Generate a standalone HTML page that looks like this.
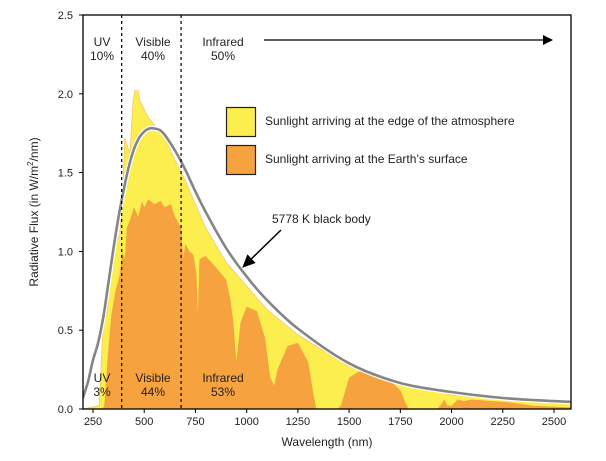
<!DOCTYPE html>
<html><head><meta charset="utf-8"><style>
html,body{margin:0;padding:0;background:#fff;}
svg{display:block;font-family:"Liberation Sans",Arial,sans-serif;}
</style></head><body>
<svg id="chart" width="606" height="461" viewBox="0 0 606 461">
<defs>
<clipPath id="pc"><rect x="83" y="15" width="488" height="394"/></clipPath>
<marker id="ah" markerWidth="10" markerHeight="10" refX="9" refY="5" orient="auto" markerUnits="userSpaceOnUse"><path d="M0,0 L10,5 L0,10 z" fill="#000"/></marker>
<marker id="ah2" markerWidth="14" markerHeight="12" refX="12" refY="6" orient="auto" markerUnits="userSpaceOnUse"><path d="M0,0 L13,6 L0,12 z" fill="#000"/></marker>
</defs>
<g id="marks" clip-path="url(#pc)"></g>
<g id="axes"></g>
<g id="labels">
<text x="102" y="46" font-size="12" text-anchor="middle" fill="#222">UV</text>
<text x="102" y="60" font-size="12" text-anchor="middle" fill="#222">10%</text>
<text x="153" y="46" font-size="12" text-anchor="middle" fill="#222">Visible</text>
<text x="153" y="60" font-size="12" text-anchor="middle" fill="#222">40%</text>
<text x="223" y="46" font-size="12" text-anchor="middle" fill="#222">Infrared</text>
<text x="223" y="60" font-size="12" text-anchor="middle" fill="#222">50%</text>
<line x1="264" y1="40" x2="552" y2="40" stroke="#000" stroke-width="1.3" marker-end="url(#ah)"/>
<text x="102" y="382" font-size="12" text-anchor="middle" fill="#222">UV</text>
<text x="102" y="396" font-size="12" text-anchor="middle" fill="#222">3%</text>
<text x="153" y="382" font-size="12" text-anchor="middle" fill="#222">Visible</text>
<text x="153" y="396" font-size="12" text-anchor="middle" fill="#222">44%</text>
<text x="223" y="382" font-size="12" text-anchor="middle" fill="#222">Infrared</text>
<text x="223" y="396" font-size="12" text-anchor="middle" fill="#222">53%</text>
<g>
<rect x="226.5" y="107.5" width="29" height="29" fill="#fcee4f" stroke="#222" stroke-width="1.2"/>
<text x="265" y="125" font-size="12" fill="#222">Sunlight arriving at the edge of the atmosphere</text>
<rect x="226.5" y="145.5" width="29" height="29" fill="#f5a23f" stroke="#222" stroke-width="1.2"/>
<text x="265" y="163" font-size="12" fill="#222">Sunlight arriving at the Earth’s surface</text>
</g>
<text x="272" y="223" font-size="12" fill="#222">5778 K black body</text>
<line x1="281" y1="230" x2="243" y2="267" stroke="#000" stroke-width="1.5" marker-end="url(#ah2)"/>
<text x="327" y="446" font-size="12" text-anchor="middle" fill="#222">Wavelength (nm)</text>
<text transform="translate(38,212) rotate(-90)" font-size="12" text-anchor="middle" fill="#222">Radiative Flux (in W/m<tspan font-size="8" dy="-5">2</tspan><tspan dy="5">/nm)</tspan></text>
</g>
</svg>
<script>
const topWl = [200,280,300,320,340,360,380,395,405,415,430,445,455,470,480,490,500,520,550,600,650,700,750,800,900,1000,1100,1250,1500,1750,2000,2250,2500,2590];
const topFlux = [0,0.02,0.55,0.62,0.95,1.05,1.1,1.35,1.72,1.68,1.62,1.95,2.02,2.02,1.95,1.93,1.9,1.85,1.80,1.72,1.58,1.45,1.3,1.15,0.93,0.78,0.63,0.47,0.27,0.16,0.09,0.06,0.035,0.03];
const surfWl = [200,295,305,320,340,360,380,395,405,415,430,450,470,490,500,520,550,580,600,630,650,680,690,700,720,740,755,762,770,800,850,900,920,935,950,970,1000,1050,1090,1115,1135,1150,1200,1250,1300,1325,1340,1440,1460,1500,1550,1600,1700,1750,1775,1790,1930,1950,1965,1980,2000,2030,2060,2100,2200,2300,2400,2500,2590];
const surfFlux = [0,0,0.02,0.3,0.6,0.75,0.85,1.0,0.95,1.15,1.2,1.28,1.22,1.32,1.28,1.33,1.3,1.32,1.28,1.3,1.22,1.15,0.95,1.05,1.0,0.98,0.85,0.6,0.95,0.97,0.9,0.82,0.7,0.55,0.3,0.55,0.65,0.62,0.45,0.2,0.15,0.25,0.4,0.42,0.3,0.1,0,0,0.02,0.2,0.24,0.24,0.18,0.12,0.04,0,0,0.03,0.06,0.02,0.02,0.06,0.05,0.06,0.05,0.04,0.02,0.015,0.01];
const bbWl = [200,225,250,275,300,325,350,375,400,425,450,475,500,525,550,575,600,650,700,750,800,900,1000,1100,1250,1500,1750,2000,2250,2500,2590];
const bbFlux = [0.07,0.17,0.31,0.42,0.58,0.8,1.02,1.22,1.39,1.54,1.65,1.72,1.76,1.78,1.78,1.77,1.74,1.64,1.52,1.38,1.25,1.02,0.84,0.69,0.51,0.29,0.165,0.108,0.07,0.05,0.045];
const xTicks = [250,500,750,1000,1250,1500,1750,2000,2250,2500];
const yTicks = [0,0.5,1.0,1.5,2.0,2.5];
const yTickLabels = ["0.0","0.5","1.0","1.5","2.0","2.5"];
const dividers = [390,680];

const X0=83,X1=571,Y0=409,Y1=15;
function xs(w){return 93+(w-250)*(461/2250);}
function ys(v){return Y0-v*(Y0-Y1)/2.5;}
const NS="http://www.w3.org/2000/svg";
function mk(t,a,p){const e=document.createElementNS(NS,t);for(const k in a)e.setAttribute(k,a[k]);p.appendChild(e);return e;}
const marks=document.getElementById('marks'), axes=document.getElementById('axes');
function area(wl,fl){let d='M'+xs(wl[0])+','+Y0;for(let i=0;i<wl.length;i++)d+=' L'+xs(wl[i]).toFixed(1)+','+ys(fl[i]).toFixed(1);d+=' L'+xs(wl[wl.length-1])+','+Y0+' Z';return d;}
function smooth(wl,fl){const p=wl.map((w,i)=>[xs(w),ys(fl[i])]);let d='M'+p[0][0].toFixed(1)+','+p[0][1].toFixed(1);
for(let i=0;i<p.length-1;i++){const a=p[Math.max(i-1,0)],b=p[i],c=p[i+1],e=p[Math.min(i+2,p.length-1)];
const c1=[b[0]+(c[0]-a[0])/6,b[1]+(c[1]-a[1])/6],c2=[c[0]-(e[0]-b[0])/6,c[1]-(e[1]-b[1])/6];
d+=' C'+c1[0].toFixed(1)+','+c1[1].toFixed(1)+' '+c2[0].toFixed(1)+','+c2[1].toFixed(1)+' '+c[0].toFixed(1)+','+c[1].toFixed(1);}
return d;}
const a1=mk('path',{d:area(topWl,topFlux),fill:'#fcee4f',stroke:'#f7c56a','stroke-width':0.8},marks);


const a2=mk('path',{d:area(surfWl,surfFlux),fill:'#f5a23f'},marks);


const bb=mk('path',{d:smooth(bbWl,bbFlux),fill:'none',stroke:'#fff','stroke-width':5},marks);


const bl=mk('path',{d:smooth(bbWl,bbFlux),fill:'none',stroke:'#858585','stroke-width':2.6,'stroke-linejoin':'round'},marks);


dividers.forEach(w=>{const l=mk('line',{x1:xs(w),x2:xs(w),y1:Y1,y2:Y0,stroke:'#000','stroke-width':1.2,'stroke-dasharray':'3,3'},marks);

});
const fr=mk('rect',{x:X0,y:Y1,width:X1-X0,height:Y0-Y1,fill:'none',stroke:'#000','stroke-width':1.3},axes);


xTicks.forEach(t=>{const l=mk('line',{x1:xs(t),x2:xs(t),y1:Y0,y2:Y0+4,stroke:'#000'},axes);


const tx=mk('text',{x:xs(t),y:Y0+16,'font-size':11,'text-anchor':'middle',fill:'#222'},axes);tx.textContent=t;

});
yTicks.forEach((t,i)=>{const l=mk('line',{x1:X0-4,x2:X0,y1:ys(t),y2:ys(t),stroke:'#000'},axes);


const tx=mk('text',{x:X0-10,y:ys(t)+4,'font-size':11,'text-anchor':'end',fill:'#222'},axes);tx.textContent=yTickLabels[i];

});
</script>
</body></html>
